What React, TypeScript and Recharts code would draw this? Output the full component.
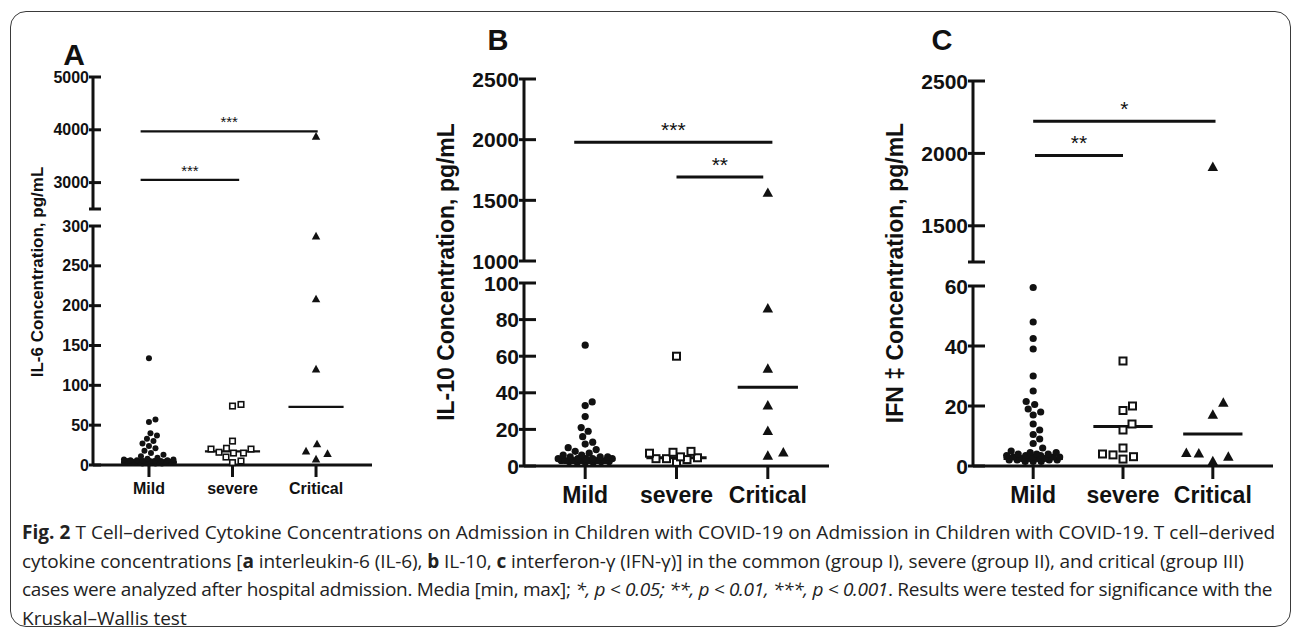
import React from 'react';
import { ScatterChart, Scatter, XAxis, YAxis, ReferenceLine } from 'recharts';

const GROUPS = ['Mild', 'severe', 'Critical'];

// IL-6 (panel A)
const IL6_MILD = [134, 57, 54, 40, 37, 33, 30, 27, 24, 21, 18, 15, 13, 11, 9, 8, 7, 7, 6, 6, 6, 5, 5, 5, 5, 5, 4, 4, 4, 4, 4, 4, 3, 3, 3, 3, 3, 3, 2, 2, 2, 2];
const IL6_SEVERE = [76, 74, 30, 21, 20, 20, 16, 15, 15, 10, 5, 3];
const IL6_CRITICAL = [3870, 287, 208, 120, 26, 17, 14, 7];
const IL6_CENTRE = [4, 17, 73];
const IL6_HI_TICKS = [2500, 3000, 4000, 5000];
const IL6_LO_TICKS = [0, 50, 100, 150, 200, 250, 300];
const IL6_SIG_Y = [3970, 3050];
const IL6_SIG_FROM = [0.9, 0.9];
const IL6_SIG_TO = [3.02, 2.08];
const IL6_SIG_TEXT = ['***', '***'];

// IL-10 (panel B)
const IL10_MILD = [66, 35, 33, 27, 21, 19, 16, 13, 12, 10, 9, 8, 7, 6, 6, 5, 5, 5, 4, 4, 4, 4, 4, 3, 3, 3, 3, 3, 3, 3, 2.5, 2.5, 2.5, 2, 2, 2];
const IL10_SEVERE = [60, 8, 7.5, 7, 5, 4.5, 4, 4, 3.5, 2];
const IL10_CRITICAL = [1560, 86, 53, 33, 19, 7.3, 5.5];
const IL10_CENTRE = [3.5, 4.5, 43];
const IL10_HI_TICKS = [1000, 1500, 2000, 2500];
const IL10_LO_TICKS = [0, 20, 40, 60, 80, 100];
const IL10_SIG_Y = [1978, 1693];
const IL10_SIG_FROM = [0.88, 2.0];
const IL10_SIG_TO = [3.05, 2.95];
const IL10_SIG_TEXT = ['***', '**'];

// IFN-γ (panel C)
const IFN_MILD = [59.5, 48, 42.5, 39, 30, 25, 21.5, 20.5, 19, 18, 17, 14, 12, 10.5, 9, 7.5, 6, 5, 4.5, 4.5, 4, 4, 4, 3.5, 3.5, 3.5, 3, 3, 3, 3, 2.5, 2.5, 2.5, 2.5, 2, 2, 2, 2, 1.5, 1.5, 1.5];
const IFN_SEVERE = [35, 20, 18.5, 14, 12, 6, 4, 3.7, 3.1, 2.3];
const IFN_CRITICAL = [1905, 21, 17, 4.3, 4.1, 3, 1.5];
const IFN_CENTRE = [2.5, 13.2, 10.7];
const IFN_HI_TICKS = [1250, 1500, 2000, 2500];
const IFN_LO_TICKS = [0, 20, 40, 60];
const IFN_SIG_Y = [2222, 1986];
const IFN_SIG_FROM = [1.0, 1.02];
const IFN_SIG_TO = [3.03, 2.0];
const IFN_SIG_TEXT = ['*', '**'];

const FONT = '"Liberation Sans", Arial, Helvetica, sans-serif';
const INK = '#111';
const X_DOMAIN: [number, number] = [0.33, 3.67];
const HALF = 0.33;
const SPREAD = 0.3;
const YW = 80;
const PAD = 14;
const XH = 50;

type Geo = {
  axisX: number; right: number; hiTop: number; hiBottom: number; loTop: number; loBottom: number;
  tickFs: number; catFs: number; starFs: number; starOff: number; tickL: number; tickR: number;
  catTick: number; catDy: number; r: number; sq: number; tri: number; mark: number; lw: number; gap: number;
};

const GEO_A: Geo = { axisX: 93, right: 372, hiTop: 77, hiBottom: 209, loTop: 226, loBottom: 465, tickFs: 16, catFs: 16, starFs: 15, starOff: 4, tickL: 4, tickR: 8, catTick: 12, catDy: 23, r: 3, sq: 5.5, tri: 8.5, mark: 1.6, lw: 2.2, gap: 4 };
const GEO_B: Geo = { axisX: 524, right: 829, hiTop: 79, hiBottom: 261, loTop: 283, loBottom: 466, tickFs: 21, catFs: 23, starFs: 21, starOff: 5, tickL: 5, tickR: 12, catTick: 13, catDy: 29, r: 3.6, sq: 7, tri: 10.5, mark: 2, lw: 3, gap: 5 };
const GEO_C: Geo = { ...GEO_B, axisX: 973, right: 1273, hiTop: 81, hiBottom: 262, loTop: 286, loBottom: 466 };

// beeswarm: push overlapping points sideways, but never wider than maxHalf px
function swarm(values: number[], cat: number, pxY: number, pxX: number, d: number, maxHalf: number) {
  const done: { dx: number; py: number }[] = [];
  return [...values].sort((a, b) => a - b).map((v) => {
    const py = v * pxY;
    let best = 0;
    let bestGap = -Infinity;
    for (let k = 0; ; k++) {
      const c = (k % 2 ? 1 : -1) * Math.ceil(k / 2) * 0.5;
      if (Math.abs(c) > maxHalf) break;
      const gap = done.reduce((m, p) => Math.min(m, Math.hypot(p.dx - c, p.py - py)), Infinity);
      if (gap >= d) { best = c; break; }
      if (gap > bestGap + 1e-6) { bestGap = gap; best = c; }
    }
    done.push({ dx: best, py });
    return { x: cat + best / pxX, y: v };
  });
}

const ValTick = ({ x, y, payload, g, hidden }: any) => (
  <g>
    <line x1={x - g.tickL} x2={x + g.tickR} y1={y} y2={y} stroke={INK} strokeWidth={3} />
    {payload.value === hidden ? null : (
      <text x={x - g.gap} y={y} textAnchor="end" dominantBaseline="central" fontSize={g.tickFs} fontWeight="bold" fontFamily={FONT} fill={INK}>
        {payload.value}
      </text>
    )}
  </g>
);

const CatTick = ({ x, y, payload, g }: any) => (
  <g>
    <line x1={x} x2={x} y1={y} y2={y + g.catTick} stroke={INK} strokeWidth={3} />
    <text x={x} y={y + g.catDy} textAnchor="middle" dominantBaseline="central" fontSize={g.catFs} fontWeight="bold" fontFamily={FONT} fill={INK}>
      {GROUPS[payload.value - 1]}
    </text>
  </g>
);

const shapes = (g: Geo) => [
  (p: any) => <circle cx={p.cx} cy={p.cy} r={g.r} fill={INK} />,
  (p: any) => <rect x={p.cx - g.sq / 2} y={p.cy - g.sq / 2} width={g.sq} height={g.sq} fill="#fff" stroke={INK} strokeWidth={g.mark} />,
  (p: any) => {
    const h = g.tri * 0.9;
    return <path d={`M${p.cx},${p.cy - h * 0.6}L${p.cx + g.tri / 2},${p.cy + h * 0.4}L${p.cx - g.tri / 2},${p.cy + h * 0.4}Z`} fill={INK} />;
  },
];

type SegProps = {
  g: Geo; top: number; bottom: number; domain: [number, number]; ticks: number[]; hidden?: number;
  groups: number[][]; centre?: number[]; sigY?: number[]; sigFrom?: number[]; sigTo?: number[]; sigText?: string[]; showX: boolean;
};

function Segment({ g, top, bottom, domain, ticks, hidden, groups, centre, sigY, sigFrom, sigTo, sigText, showX }: SegProps) {
  const plotH = bottom - top;
  const plotW = g.right - g.axisX;
  const pxY = plotH / (domain[1] - domain[0]);
  const pxX = plotW / (X_DOMAIN[1] - X_DOMAIN[0]);
  const shp = shapes(g);
  const sizes = [g.r * 2 + 0.5, g.sq * 1.5, g.tri * 1.5];
  return (
    <div style={{ position: 'absolute', left: g.axisX - YW, top: top - PAD }}>
      <ScatterChart width={YW + plotW + PAD} height={PAD + plotH + (showX ? XH : PAD)} margin={{ top: PAD, right: PAD, bottom: showX ? 0 : PAD, left: 0 }}>
        <XAxis type="number" dataKey="x" domain={X_DOMAIN} ticks={[1, 2, 3]} hide={!showX} height={XH}
          axisLine={{ stroke: INK, strokeWidth: 3 }} tickLine={false} tickSize={0} tickMargin={0} tick={<CatTick g={g} />} />
        <YAxis type="number" dataKey="y" domain={domain} ticks={ticks} interval={0} width={YW}
          axisLine={{ stroke: INK, strokeWidth: 3 }} tickLine={false} tickSize={0} tickMargin={0} tick={<ValTick g={g} hidden={hidden} />} />
        {centre && centre.map((m, i) => (
          <ReferenceLine key={'m' + i} segment={[{ x: i + 1 - HALF, y: m }, { x: i + 1 + HALF, y: m }]} stroke={INK} strokeWidth={g.lw} />
        ))}
        {sigY && sigY.map((y, i) => (
          <ReferenceLine key={'s' + i} segment={[{ x: sigFrom![i], y }, { x: sigTo![i], y }]} stroke={INK} strokeWidth={g.lw}
            label={{ value: sigText![i], position: 'top', offset: g.starOff, fontSize: g.starFs, fill: INK, fontFamily: FONT }} />
        ))}
        {groups.map((vals, i) => {
          const inSeg = vals.filter((v) => v >= domain[0] && v <= domain[1]);
          return (
            <Scatter key={GROUPS[i]} data={swarm(inSeg, i + 1, pxY, pxX, sizes[i], SPREAD * pxX)} shape={shp[i]} isAnimationActive={false} />
          );
        })}
      </ScatterChart>
    </div>
  );
}

type PanelProps = {
  g: Geo; groups: number[][]; centre: number[]; hiTicks: number[]; loTicks: number[]; breakAt?: number;
  sigY: number[]; sigFrom: number[]; sigTo: number[]; sigText: string[];
};

function Panel({ g, groups, centre, hiTicks, loTicks, breakAt, sigY, sigFrom, sigTo, sigText }: PanelProps) {
  return (
    <>
      <Segment g={g} top={g.hiTop} bottom={g.hiBottom} domain={[hiTicks[0], hiTicks[hiTicks.length - 1]]} ticks={hiTicks} hidden={breakAt}
        groups={groups} sigY={sigY} sigFrom={sigFrom} sigTo={sigTo} sigText={sigText} showX={false} />
      <Segment g={g} top={g.loTop} bottom={g.loBottom} domain={[loTicks[0], loTicks[loTicks.length - 1]]} ticks={loTicks}
        groups={groups} centre={centre} showX />
    </>
  );
}

const labelStyle = { fontFamily: FONT, fontWeight: 'bold' as const, fill: INK };

export default function App() {
  return (
    <div style={{ position: 'absolute', left: 0, top: 0, width: 1293, height: 630, background: '#fff', overflow: 'hidden' }}>
      <div style={{ position: 'absolute', left: 10, top: 11, width: 1281, height: 616, border: '1.5px solid #3a3a3a', borderRadius: 16, boxSizing: 'border-box' }} />
      <svg width={1293} height={630} style={{ position: 'absolute', left: 0, top: 0 }}>
        <text x={74} y={54} textAnchor="middle" dominantBaseline="central" fontSize={30} {...labelStyle}>A</text>
        <text x={498} y={40} textAnchor="middle" dominantBaseline="central" fontSize={29} {...labelStyle}>B</text>
        <text x={942} y={40} textAnchor="middle" dominantBaseline="central" fontSize={29} {...labelStyle}>C</text>
        <text transform="translate(37,272) rotate(-90)" textAnchor="middle" dominantBaseline="central" fontSize={17} {...labelStyle}>IL-6 Concentration, pg/mL</text>
        <text transform="translate(446,272) rotate(-90)" textAnchor="middle" dominantBaseline="central" fontSize={23} {...labelStyle}>IL-10 Concentration, pg/mL</text>
        <text transform="translate(895,273) rotate(-90)" textAnchor="middle" dominantBaseline="central" fontSize={23} {...labelStyle}>IFN ‡ Concentration, pg/mL</text>
      </svg>
      <Panel g={GEO_A} groups={[IL6_MILD, IL6_SEVERE, IL6_CRITICAL]} centre={IL6_CENTRE} hiTicks={IL6_HI_TICKS} loTicks={IL6_LO_TICKS} breakAt={2500}
        sigY={IL6_SIG_Y} sigFrom={IL6_SIG_FROM} sigTo={IL6_SIG_TO} sigText={IL6_SIG_TEXT} />
      <Panel g={GEO_B} groups={[IL10_MILD, IL10_SEVERE, IL10_CRITICAL]} centre={IL10_CENTRE} hiTicks={IL10_HI_TICKS} loTicks={IL10_LO_TICKS}
        sigY={IL10_SIG_Y} sigFrom={IL10_SIG_FROM} sigTo={IL10_SIG_TO} sigText={IL10_SIG_TEXT} />
      <Panel g={GEO_C} groups={[IFN_MILD, IFN_SEVERE, IFN_CRITICAL]} centre={IFN_CENTRE} hiTicks={IFN_HI_TICKS} loTicks={IFN_LO_TICKS} breakAt={1250}
        sigY={IFN_SIG_Y} sigFrom={IFN_SIG_FROM} sigTo={IFN_SIG_TO} sigText={IFN_SIG_TEXT} />
      <div style={{ position: 'absolute', left: 22, top: 518, fontFamily: '"Open Sans", sans-serif', fontSize: 19, lineHeight: '28.5px', color: '#222', whiteSpace: 'nowrap' }}>
        <div style={{ letterSpacing: 0.04 }}><b>Fig. 2</b> T Cell–derived Cytokine Concentrations on Admission in Children with COVID-19 on Admission in Children with COVID-19. T cell–derived</div>
        <div style={{ letterSpacing: -0.08 }}>cytokine concentrations [<b>a</b> interleukin-6 (IL-6), <b>b</b> IL-10, <b>c</b> interferon-γ (IFN-γ)] in the common (group I), severe (group II), and critical (group III)</div>
        <div style={{ letterSpacing: -0.3 }}>cases were analyzed after hospital admission. Media [min, max]; <i>*, p &lt; 0.05; **, p &lt; 0.01, ***, p &lt; 0.001</i>. Results were tested for significance with the</div>
        <div>Kruskal–Wallis test</div>
      </div>
    </div>
  );
}
